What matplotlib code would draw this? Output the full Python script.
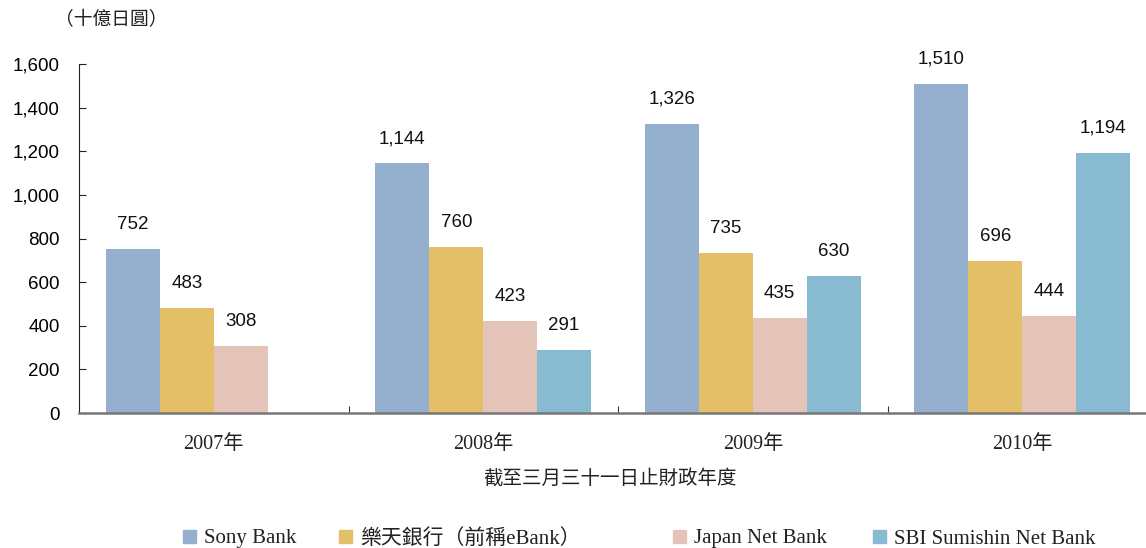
import numpy as np
import matplotlib.pyplot as plt
from matplotlib.patches import Patch

years = ['2007年', '2008年', '2009年', '2010年']
series = ['Sony Bank', '樂天銀行（前稱eBank）', 'Japan Net Bank', 'SBI Sumishin Net Bank']
sony = [752, 1144, 1326, 1510]
rakuten = [483, 760, 735, 696]
japan_net = [308, 423, 435, 444]
sbi = [None, 291, 630, 1194]
colors = ['#95b0cf', '#e3bf68', '#e4c4b8', '#88bad1']

serif = ['Liberation Serif', 'Noto Sans CJK TC']
cjk = ['Noto Sans CJK TC', 'DejaVu Sans']
sans = ['Liberation Sans', 'Noto Sans CJK TC']

fig = plt.figure(figsize=(11.46, 5.48), dpi=100)
ax = fig.add_axes([79 / 1146, 1 - 413 / 548, 1 - 79 / 1146, (413 - 64) / 548])

x = np.arange(len(years))
w = 0.2
for i, vals in enumerate([sony, rakuten, japan_net, sbi]):
    for j, v in enumerate(vals):
        if v is None:
            continue
        xpos = x[j] + (i - 1.5) * w
        ax.bar(xpos, v, w, color=colors[i], linewidth=0)
        ax.annotate(f'{v:,}', (xpos, v), xytext=(0, 17.5), textcoords='offset points',
                    ha='center', va='center', fontsize=13.5, family=sans, color='#111111')

ax.set_xlim(-0.5, 3.5 - 11 / 269.5)
ax.set_ylim(0, 1600)
ax.set_yticks(range(0, 1601, 200))
ax.set_yticklabels([f'{t:,}' for t in range(0, 1601, 200)], family=sans, fontsize=13.5)
ax.tick_params(axis='y', direction='in', length=5, pad=14, color='#222222')

ax.set_xticks([0.5, 1.5, 2.5])
ax.set_xticklabels([])
ax.set_xticks(x, minor=True)
ax.set_xticklabels(years, minor=True, family=serif, fontsize=14.5, color='#222222')
ax.tick_params(axis='x', which='major', direction='in', length=5, color='#333333')
ax.tick_params(axis='x', which='minor', length=0, pad=16)

ax.spines['top'].set_visible(False)
ax.spines['right'].set_visible(False)
ax.spines['left'].set_color('#222222')
ax.spines['bottom'].set_color('#777777')
ax.spines['bottom'].set_linewidth(1.8)

fig.text(55 / 1146, 1 - 20 / 548, '（十億日圓）', family=cjk, fontsize=13.5,
         ha='left', va='center', color='#222222')
fig.text(610 / 1146, 1 - 479 / 548, '截至三月三十一日止財政年度', family=cjk,
         fontsize=14, ha='center', va='center', color='#222222')

leg_x = [175, 331, 665, 865]
for name, c, lx in zip(series, colors, leg_x):
    leg = fig.legend(handles=[Patch(color=c, label=name)], loc='center left',
                     bbox_to_anchor=(lx / 1146, 1 - 539 / 548), frameon=False,
                     prop={'family': serif, 'size': 15}, handlelength=0.6,
                     handleheight=0.6, handletextpad=0.4, borderaxespad=0)
    for t in leg.get_texts():
        t.set_color('#222222')

fig.savefig('out.png', dpi=100)
